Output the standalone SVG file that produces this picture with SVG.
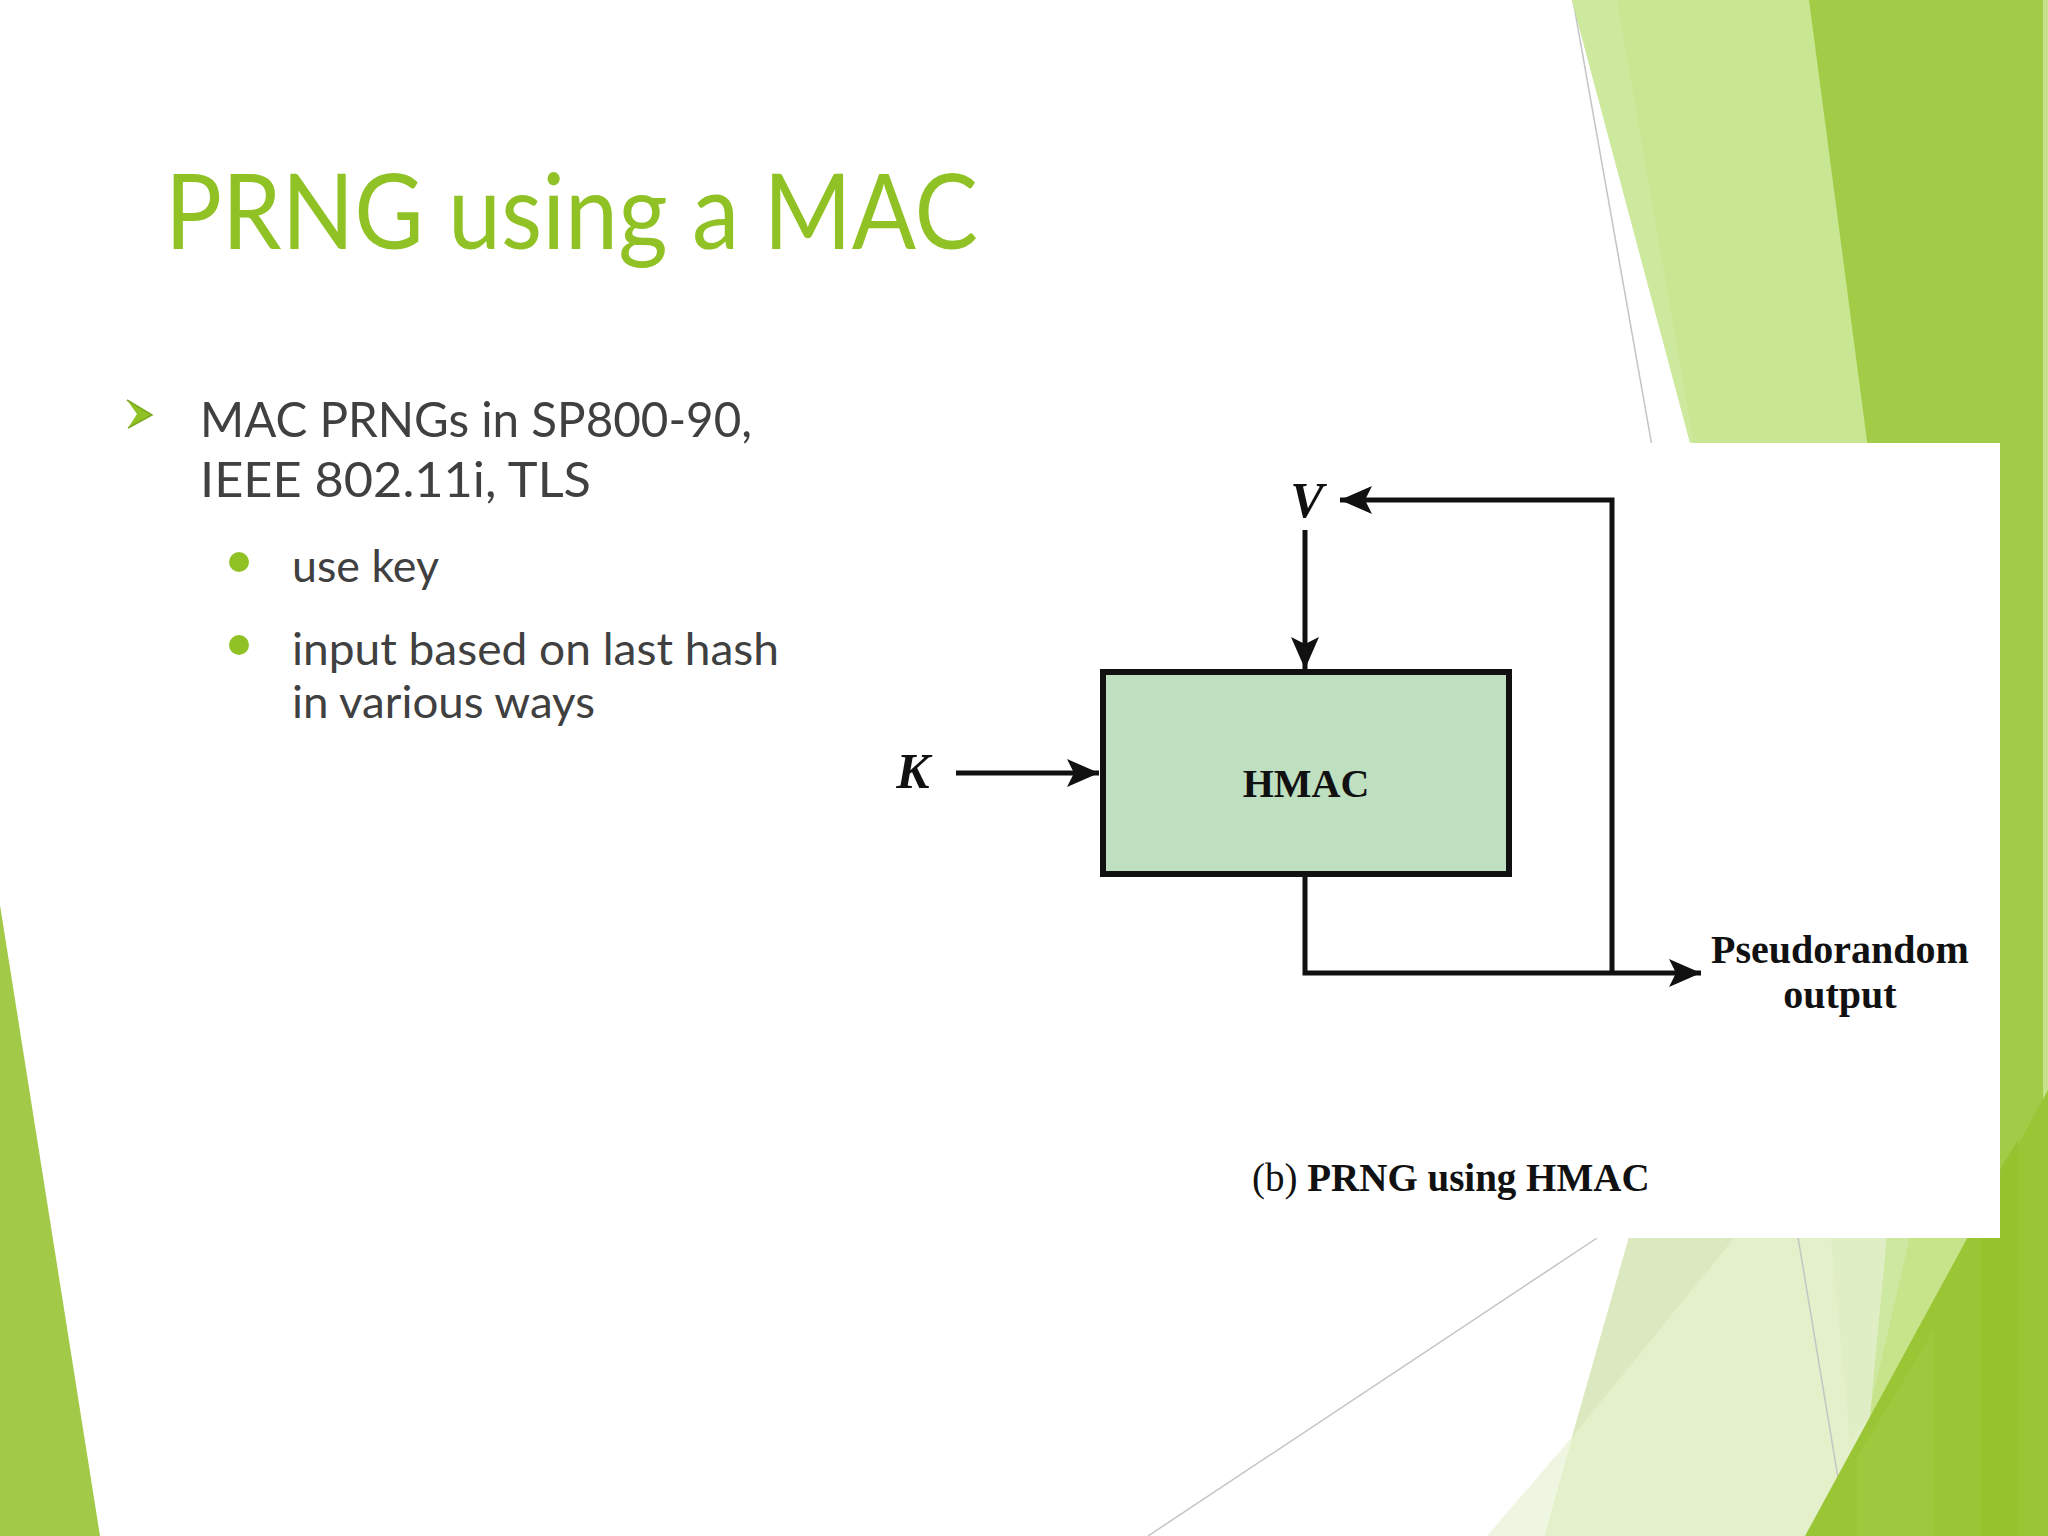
<svg xmlns="http://www.w3.org/2000/svg" width="2048" height="1536" viewBox="0 0 2048 1536">
  <defs>
    <style>
      .slide { font-family: Lato, "Open Sans", "DejaVu Sans", sans-serif; }
      .title { fill: #90c226; font-size: 104px; }
      .body { fill: #404040; font-size: 49px; }
      .sub { fill: #404040; font-size: 44px; }
      .fig { font-family: "Liberation Serif", "Times New Roman", serif; fill: #111; font-weight: bold; }
      .var { font-size: 50px; font-style: italic; }
      .lbl { font-size: 40px; }
      .wire { fill: none; stroke: #111; stroke-width: 5; }
      .bg-line { stroke: #c4c4c4; stroke-width: 1.5; fill: none; }
    </style>
    <marker id="arrow" markerUnits="userSpaceOnUse" markerWidth="34" markerHeight="30" refX="32" refY="14" orient="auto">
      <path d="M0,0 L32,14 L0,28 L7,14 Z" fill="#111"/>
    </marker>
  </defs>

  <!-- background -->
  <rect x="0" y="0" width="2048" height="1536" fill="#ffffff"/>

  <g id="background">
    <line class="bg-line" x1="1573" y1="0" x2="1845" y2="1536"/>
    <polygon points="1809,0 2048,0 2048,1536 1809,1536" fill="#a2cb47"/>
    <rect x="2043" y="0" width="5" height="1100" fill="#c6e38c"/>
    <polygon points="1572,0 1809,0 1880,540 1700,480" fill="#c9e793"/>
    <polygon points="1572,0 1617,0 1700,480" fill="#cde99d"/>
    <!-- bottom right fan -->
    <polygon points="1629,1237 2000,1237 1805,1536 1544,1536 1572,1437" fill="#e3f0c9"/>
    <polygon points="1629,1237 1735,1237 1572,1437" fill="#dce9c0"/>
    <polygon points="1572,1437 1544,1536 1487,1536" fill="#eef6e1"/>
    <polygon points="1831,1237 1887,1237 1870,1417 1850,1440" fill="#e0eec6"/>
    <line class="bg-line" x1="1798" y1="1237" x2="1845" y2="1520" stroke="#d2dcc0"/>
    <polygon points="1887,1237 2000,1237 1870,1417" fill="#c8e48a"/>
    <polygon points="1887,1237 1910,1237 1872,1400" fill="#cde8a0"/>
    <polygon points="2048,1090 2048,1536 1805,1536" fill="#9ac535"/>
    <polygon points="1857,1457 1934,1330 1934,1536 1857,1536" fill="#a0c942" opacity="0.7"/>
    <polygon points="1981,1200 2018,1140 2018,1536 1981,1536" fill="#94c12c" opacity="0.8"/>
    <line class="bg-line" x1="1597" y1="1238" x2="1148" y2="1536"/>
    <!-- left triangle -->
    <polygon points="0,905 100,1536 0,1536" fill="#a2c948"/>
    <!-- figure background -->
    <rect x="880" y="443" width="1120" height="795" fill="#ffffff"/>
  </g>

  <g id="title" class="slide">
    <text class="title" x="165" y="249" textLength="813" lengthAdjust="spacingAndGlyphs">PRNG using a MAC</text>
  </g>

  <g id="bullets" class="slide">
    <polygon points="127,400 152,415 128,428 137,414" fill="#90c226"/>
    <polyline points="127,400 152,415 128,428" fill="none" stroke="#7aa81c" stroke-width="1.5"/>
    <text class="body" x="200" y="437" textLength="552" lengthAdjust="spacingAndGlyphs">MAC PRNGs in SP800-90,</text>
    <text class="body" x="200" y="497" textLength="391" lengthAdjust="spacingAndGlyphs">IEEE 802.11i, TLS</text>
    <circle cx="239" cy="562" r="10" fill="#90c226"/>
    <text class="sub" x="292" y="582" textLength="147" lengthAdjust="spacingAndGlyphs">use key</text>
    <circle cx="239" cy="645" r="10" fill="#90c226"/>
    <text class="sub" x="292" y="665" textLength="487" lengthAdjust="spacingAndGlyphs">input based on last hash</text>
    <text class="sub" x="292" y="718" textLength="303" lengthAdjust="spacingAndGlyphs">in various ways</text>
  </g>

  <g id="connectors">
    <line class="wire" x1="1305" y1="530" x2="1305" y2="669" marker-end="url(#arrow)"/>
    <line class="wire" x1="956" y1="773" x2="1099" y2="773" marker-end="url(#arrow)"/>
    <path class="wire" d="M1305,877 V973 H1701" marker-end="url(#arrow)"/>
    <path class="wire" d="M1612,973 V500 H1340" marker-end="url(#arrow)"/>
  </g>

  <g id="node-hmac">
    <rect x="1103" y="672" width="406" height="202" fill="#bfdfc1" stroke="#111" stroke-width="6"/>
    <text class="fig lbl" x="1306" y="797" text-anchor="middle">HMAC</text>
  </g>

  <g id="node-v">
    <text class="fig var" x="1307" y="517" text-anchor="middle">V</text>
  </g>

  <g id="node-k">
    <text class="fig var" x="913" y="788" text-anchor="middle">K</text>
  </g>

  <g id="node-output">
    <text class="fig lbl" x="1840" y="963" text-anchor="middle">Pseudorandom</text>
    <text class="fig lbl" x="1840" y="1008" text-anchor="middle">output</text>
  </g>

  <g id="caption">
    <text class="fig" x="1252" y="1191" font-size="39"><tspan font-weight="normal">(b)</tspan> PRNG using HMAC</text>
  </g>
</svg>
